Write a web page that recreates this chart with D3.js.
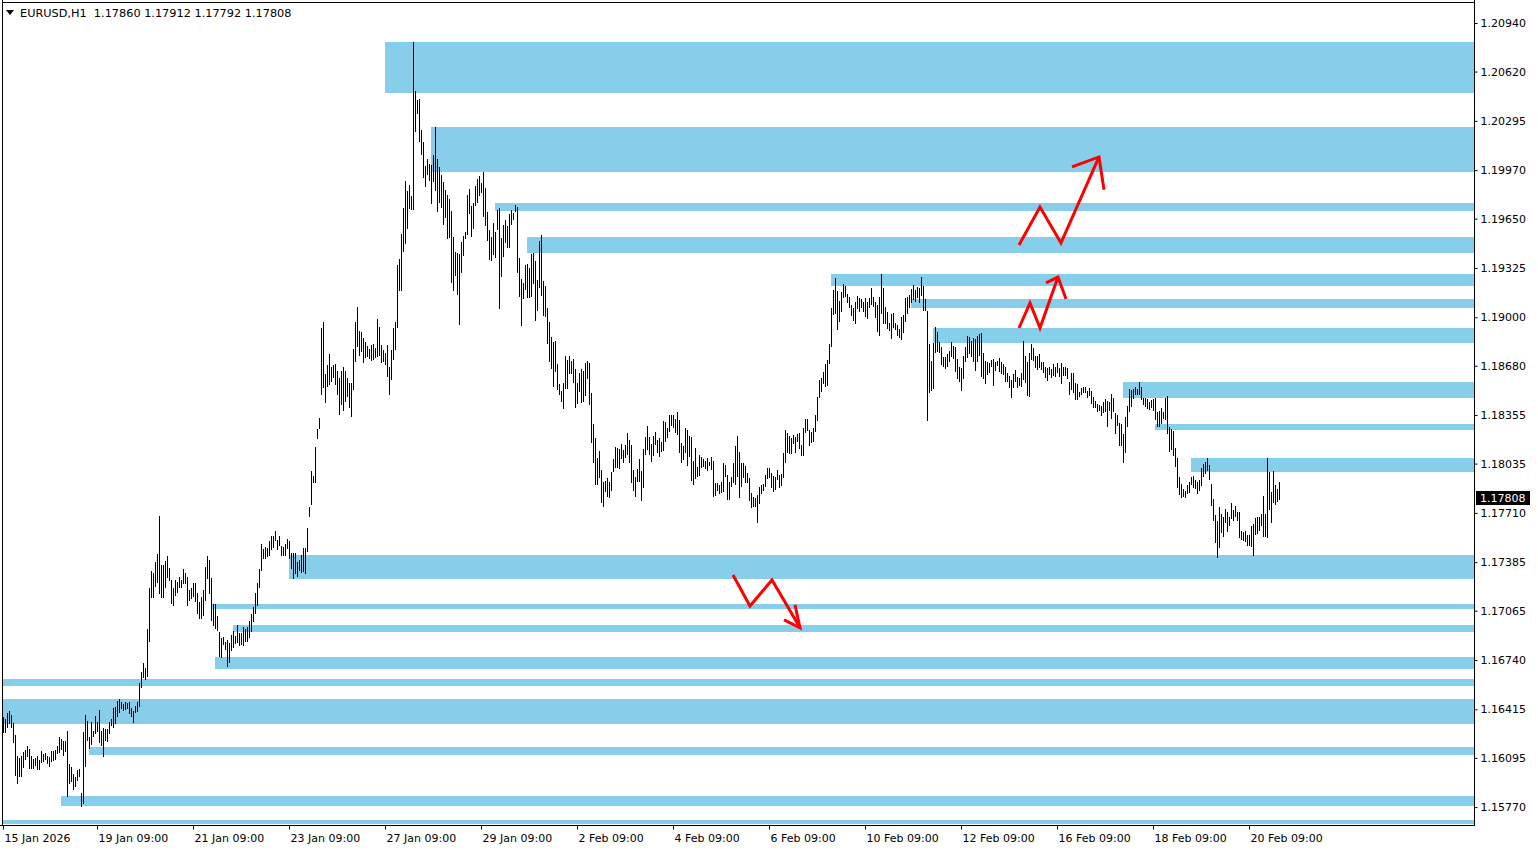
<!DOCTYPE html>
<html>
<head>
<meta charset="utf-8">
<script src="https://cdn.jsdelivr.net/npm/d3@7"></script>
<style>
  html, body { margin: 0; padding: 0; background: #fff; }
  svg { display: block; font-family: "DejaVu Sans", sans-serif; }
</style>
</head>
<body>
<svg id="chart" width="1538" height="850"></svg>
<script>
// EURUSD H1, one bar per hour
const symbolTitle = "EURUSD,H1";
const lastOpen = 1.17860, lastClose = 1.17808;

const barHigh = [
  // 15 - 19 Jan
  1.16364,1.16351,1.16390,1.16404,1.16377,1.16324,1.16245,1.16107,1.16094,1.16107,
  1.16133,1.16146,1.16173,1.16153,1.16107,1.16087,1.16094,1.16107,1.16080,1.16140,
  1.16120,1.16127,1.16107,1.16100,1.16140,1.16140,1.16146,1.16173,1.16232,1.16219,
  1.16206,1.16206,1.16272,1.16054,1.16034,1.15988,1.15968,1.16014,1.16021,1.15863,
  1.16265,1.16377,1.16338,1.16232,1.16331,1.16272,1.16371,1.16331,1.16410,1.16272,
  1.16291,1.16285,1.16285,1.16331,1.16351,1.16423,1.16430,1.16469,1.16483,1.16463,
  1.16450,1.16463,1.16456,1.16463,1.16423,1.16404,
  // 19 - 22 Jan
  1.16436,1.16463,1.16589,1.16661,1.16721,1.16688,1.16945,1.17215,1.17327,1.17314,
  1.17386,1.17439,1.17690,1.17366,1.17366,1.17393,1.17426,1.17347,1.17268,1.17215,
  1.17268,1.17254,1.17287,1.17268,1.17340,1.17314,1.17287,1.17202,1.17215,1.17248,
  1.17248,1.17182,1.17123,1.17155,1.17202,1.17353,1.17426,1.17399,1.17281,1.17110,
  1.17110,1.17031,1.16925,1.16885,1.16892,1.16859,1.16872,1.16853,1.16905,1.16932,
  1.16899,1.16971,1.16918,1.16918,1.16958,1.16945,1.16958,1.16998,1.17044,1.17090,
  1.17182,1.17248,1.17340,1.17505,
  // 22 - 27 Jan
  1.17472,1.17485,1.17479,1.17525,1.17558,1.17558,1.17591,1.17531,1.17558,1.17492,
  1.17485,1.17505,1.17538,1.17525,1.17446,1.17446,1.17446,1.17386,1.17399,1.17432,
  1.17479,1.17479,1.17610,1.17749,1.17986,1.17953,1.18144,1.18263,1.18335,1.18929,
  1.18969,1.18626,1.18685,1.18758,1.18672,1.18685,1.18692,1.18646,1.18600,1.18646,
  1.18672,1.18646,1.18600,1.18567,1.18567,1.18791,1.18969,1.19068,1.18910,1.18903,
  1.18863,1.18837,1.18811,1.18791,1.18817,1.18824,1.18797,1.18989,1.18936,1.18817,
  1.18784,1.18764,1.18817,1.18672,1.18784,1.18929,1.18969,
  // 27 - 29 Jan
  1.19344,1.19384,1.19549,1.19720,1.19899,1.19833,1.19873,1.19800,1.20815,1.20492,
  1.20433,1.20439,1.20235,1.20156,1.19998,1.20044,1.20011,1.20004,1.20070,1.20255,
  1.20044,1.19991,1.19938,1.19892,1.19840,1.19807,1.19780,1.19700,1.19529,1.19430,
  1.19423,1.19417,1.19496,1.19536,1.19562,1.19807,1.19846,1.19733,1.19753,1.19866,
  1.19912,1.19932,1.19886,1.19958,1.19853,1.19694,1.19575,1.19529,1.19621,1.19562,
  1.19707,1.19720,1.19522,1.19608,1.19641,1.19602,1.19681,1.19707,1.19687,1.19740,
  1.19727,
  // 30 Jan - 3 Feb
  1.19390,1.19252,1.19226,1.19344,1.19351,1.19325,1.19417,1.19423,1.19371,1.19245,
  1.19503,1.19542,1.19239,1.19206,1.19061,1.18969,1.18870,1.18837,1.18844,1.18692,
  1.18560,1.18514,1.18567,1.18745,1.18718,1.18745,1.18712,1.18725,1.18659,1.18567,
  1.18633,1.18659,1.18646,1.18699,1.18712,1.18699,1.18501,1.18296,1.18203,1.18071,
  1.18118,1.17992,1.17913,1.17920,1.17940,1.17913,1.17979,1.18065,1.18144,1.18138,
  1.18131,1.18164,1.18124,1.18157,1.18236,1.18190,1.18157,1.17992,1.17946,1.17999,
  1.18065,1.17986,1.18131,1.18210,
  // 3 - 6 Feb
  1.18283,1.18210,1.18164,1.18217,1.18243,1.18190,1.18203,1.18177,1.18316,1.18309,
  1.18269,1.18355,1.18355,1.18355,1.18329,1.18375,1.18322,1.18171,1.18151,1.18269,
  1.18256,1.18217,1.18210,1.18052,1.18138,1.18012,1.18091,1.18078,1.18065,1.18052,
  1.18071,1.18045,1.18078,1.18052,1.17907,1.17907,1.17894,1.17913,1.18039,1.18025,
  1.17959,1.17913,1.17946,1.18039,1.18151,1.18217,1.18111,1.18039,1.18039,1.18019,
  1.17973,1.17940,1.17841,1.17814,1.17808,1.17828,1.17880,1.17894,1.17900,1.17959,
  1.18006,1.18006,1.17973,1.17953,
  // 6 - 11 Feb
  1.17946,1.17992,1.17959,1.17966,1.18105,1.18256,1.18236,1.18217,1.18203,1.18223,
  1.18210,1.18230,1.18236,1.18157,1.18269,1.18329,1.18329,1.18256,1.18243,1.18269,
  1.18355,1.18474,1.18586,1.18600,1.18639,1.18692,1.18718,1.18824,1.19061,1.19180,
  1.19259,1.19173,1.19107,1.19166,1.19219,1.19206,1.19153,1.19133,1.19081,1.19061,
  1.19101,1.19140,1.19127,1.19120,1.19101,1.19127,1.19101,1.19127,1.19193,1.19133,
  1.19101,1.19081,1.19133,1.19285,1.19193,1.19068,1.19035,1.18962,1.19022,1.19028,
  1.18962,1.18949,1.18923,1.19002,
  // 11 - 13 Feb
  1.19015,1.19127,1.19133,1.19147,1.19186,1.19213,1.19180,1.19199,1.19193,1.19265,
  1.19206,1.19120,1.19041,1.18824,1.18712,1.18831,1.18936,1.18903,1.18837,1.18804,
  1.18738,1.18738,1.18758,1.18778,1.18837,1.18811,1.18804,1.18725,1.18672,1.18666,
  1.18745,1.18804,1.18877,1.18870,1.18844,1.18863,1.18857,1.18877,1.18890,1.18896,
  1.18764,1.18712,1.18705,1.18699,1.18718,1.18725,1.18705,1.18712,1.18732,1.18705,
  1.18692,1.18672,1.18633,1.18613,1.18586,1.18626,1.18652,1.18606,1.18600,1.18633,
  1.18844,1.18745,1.18705,1.18764,
  // 13 - 18 Feb
  1.18824,1.18797,1.18745,1.18745,1.18758,1.18705,1.18705,1.18672,1.18666,1.18672,
  1.18659,1.18692,1.18672,1.18699,1.18666,1.18699,1.18672,1.18672,1.18666,1.18573,
  1.18633,1.18633,1.18567,1.18560,1.18507,1.18534,1.18540,1.18540,1.18514,1.18534,
  1.18514,1.18474,1.18447,1.18428,1.18421,1.18414,1.18441,1.18461,1.18447,1.18441,
  1.18494,1.18468,1.18368,1.18355,1.18302,1.18296,1.18230,1.18342,1.18414,1.18527,
  1.18521,1.18527,1.18540,1.18527,1.18573,1.18540,1.18468,1.18468,1.18461,1.18441,
  1.18454,1.18461,1.18468,1.18375,
  // 18 - 20 Feb
  1.18382,1.18401,1.18375,1.18468,1.18481,1.18276,1.18263,1.18250,1.18138,1.18071,
  1.17946,1.17900,1.17867,1.17854,1.17894,1.17913,1.17946,1.17953,1.17927,1.17913,
  1.17927,1.18006,1.18032,1.18045,1.18071,1.18025,1.17900,1.17801,1.17696,1.17657,
  1.17749,1.17703,1.17683,1.17736,1.17716,1.17683,1.17775,1.17729,1.17755,1.17716,
  1.17716,1.17591,1.17584,1.17591,1.17564,1.17564,1.17624,1.17637,1.17676,1.17683,
  1.17683,1.17703,1.17821,1.17703,1.18071,1.17979,1.17847,1.17986,1.17894,1.17867,
  1.17912
];

const barLow = [
  1.16258,1.16258,1.16291,1.16318,1.16291,1.16193,1.15975,1.15922,1.15968,1.15968,
  1.16028,1.16080,1.16100,1.16021,1.16021,1.16021,1.16041,1.16014,1.16014,1.16061,
  1.16067,1.16080,1.16054,1.16034,1.16067,1.16074,1.16080,1.16120,1.16127,1.16146,
  1.16107,1.16133,1.15836,1.15922,1.15935,1.15883,1.15902,1.15942,1.15968,1.15771,
  1.15791,1.16034,1.16206,1.16153,1.16179,1.16232,1.16252,1.16265,1.16193,1.16173,
  1.16100,1.16206,1.16199,1.16252,1.16305,1.16291,1.16318,1.16364,1.16390,1.16417,
  1.16404,1.16410,1.16417,1.16384,1.16364,1.16324,

  1.16390,1.16397,1.16430,1.16556,1.16622,1.16609,1.16628,1.16859,1.17149,1.17149,
  1.17221,1.17248,1.17175,1.17149,1.17149,1.17215,1.17281,1.17261,1.17110,1.17096,
  1.17162,1.17182,1.17215,1.17215,1.17241,1.17241,1.17096,1.17129,1.17142,1.17155,
  1.17123,1.17044,1.17011,1.17011,1.17031,1.17129,1.17274,1.17175,1.16998,1.16965,
  1.16945,1.16932,1.16760,1.16754,1.16839,1.16806,1.16694,1.16721,1.16800,1.16820,
  1.16846,1.16853,1.16833,1.16839,1.16833,1.16859,1.16859,1.16885,1.16925,1.16991,
  1.17044,1.17096,1.17215,1.17327,

  1.17406,1.17406,1.17419,1.17426,1.17465,1.17479,1.17525,1.17465,1.17492,1.17426,
  1.17426,1.17426,1.17472,1.17406,1.17340,1.17274,1.17307,1.17287,1.17327,1.17314,
  1.17320,1.17307,1.17452,1.17683,1.17762,1.17907,1.17907,1.18197,1.18263,1.18488,
  1.18534,1.18434,1.18540,1.18554,1.18573,1.18600,1.18554,1.18488,1.18355,1.18421,
  1.18382,1.18441,1.18474,1.18401,1.18342,1.18521,1.18705,1.18804,1.18745,1.18771,
  1.18699,1.18732,1.18738,1.18725,1.18712,1.18718,1.18732,1.18738,1.18745,1.18699,
  1.18705,1.18685,1.18606,1.18488,1.18586,1.18718,1.18784,

  1.18929,1.19173,1.19173,1.19430,1.19483,1.19582,1.19714,1.19707,1.19707,1.20222,
  1.20341,1.20156,1.20070,1.19919,1.19859,1.19938,1.19899,1.19747,1.19892,1.19833,
  1.19694,1.19753,1.19720,1.19608,1.19654,1.19516,1.19522,1.19226,1.19173,1.19272,
  1.19147,1.18949,1.19292,1.19404,1.19516,1.19542,1.19681,1.19529,1.19582,1.19733,
  1.19753,1.19800,1.19820,1.19661,1.19602,1.19503,1.19377,1.19371,1.19410,1.19390,
  1.19575,1.19055,1.19265,1.19397,1.19490,1.19457,1.19457,1.19608,1.19641,1.19694,
  1.19292,

  1.19133,1.18943,1.19120,1.19180,1.19127,1.19127,1.19133,1.19219,1.18976,1.19041,
  1.19193,1.19140,1.19008,1.19002,1.18824,1.18705,1.18659,1.18540,1.18639,1.18521,
  1.18488,1.18441,1.18395,1.18527,1.18527,1.18626,1.18626,1.18567,1.18401,1.18428,
  1.18507,1.18434,1.18441,1.18481,1.18593,1.18421,1.18171,1.18039,1.17894,1.17894,
  1.17940,1.17775,1.17749,1.17847,1.17814,1.17808,1.17854,1.17979,1.18006,1.18006,
  1.17999,1.18065,1.18039,1.18071,1.18091,1.18039,1.17907,1.17854,1.17814,1.17913,
  1.17913,1.17788,1.17874,1.18091,

  1.18124,1.18091,1.18045,1.18085,1.18157,1.18105,1.18078,1.18111,1.18118,1.18177,
  1.18203,1.18243,1.18283,1.18269,1.18236,1.18223,1.18105,1.18039,1.18058,1.18105,
  1.18019,1.18078,1.17920,1.17894,1.17933,1.17946,1.17953,1.18006,1.18012,1.17999,
  1.17986,1.18019,1.17992,1.17814,1.17821,1.17854,1.17834,1.17841,1.17847,1.17946,
  1.17795,1.17795,1.17880,1.17907,1.17894,1.17946,1.17808,1.17880,1.17940,1.17907,
  1.17907,1.17788,1.17742,1.17749,1.17749,1.17643,1.17769,1.17834,1.17854,1.17880,
  1.17933,1.17940,1.17874,1.17847,

  1.17861,1.17927,1.17874,1.17887,1.17940,1.18039,1.18105,1.18098,1.18098,1.18164,
  1.18105,1.18177,1.18131,1.18085,1.18085,1.18236,1.18250,1.18151,1.18171,1.18177,
  1.18243,1.18316,1.18468,1.18507,1.18560,1.18540,1.18547,1.18692,1.18804,1.19015,
  1.19022,1.18916,1.18969,1.19035,1.19127,1.19133,1.19094,1.19061,1.19008,1.18976,
  1.18956,1.19055,1.19035,1.19061,1.19035,1.19002,1.18989,1.19061,1.19081,1.19068,
  1.18995,1.18903,1.18877,1.19022,1.18956,1.18956,1.18923,1.18910,1.18857,1.18929,
  1.18916,1.18877,1.18863,1.18850,

  1.18896,1.18969,1.19022,1.19061,1.19094,1.19114,1.19101,1.19127,1.19094,1.19140,
  1.19041,1.19041,1.18316,1.18501,1.18514,1.18527,1.18764,1.18771,1.18764,1.18685,
  1.18672,1.18659,1.18672,1.18705,1.18738,1.18725,1.18639,1.18593,1.18573,1.18514,
  1.18593,1.18705,1.18732,1.18758,1.18738,1.18705,1.18646,1.18705,1.18745,1.18606,
  1.18593,1.18560,1.18619,1.18633,1.18672,1.18547,1.18646,1.18679,1.18639,1.18626,
  1.18619,1.18573,1.18573,1.18534,1.18468,1.18534,1.18573,1.18534,1.18547,1.18540,
  1.18586,1.18567,1.18481,1.18474,

  1.18718,1.18712,1.18666,1.18652,1.18666,1.18652,1.18633,1.18600,1.18580,1.18619,
  1.18600,1.18613,1.18606,1.18633,1.18606,1.18560,1.18613,1.18613,1.18593,1.18488,
  1.18521,1.18501,1.18454,1.18454,1.18474,1.18488,1.18501,1.18501,1.18468,1.18481,
  1.18428,1.18401,1.18401,1.18375,1.18382,1.18349,1.18368,1.18375,1.18276,1.18382,
  1.18329,1.18375,1.18230,1.18283,1.18151,1.18151,1.18039,1.18105,1.18276,1.18375,
  1.18408,1.18461,1.18488,1.18488,1.18488,1.18454,1.18421,1.18408,1.18395,1.18388,
  1.18401,1.18382,1.18322,1.18276,

  1.18276,1.18296,1.18329,1.18322,1.18230,1.18111,1.18124,1.18085,1.18012,1.17874,
  1.17828,1.17808,1.17814,1.17808,1.17834,1.17841,1.17894,1.17874,1.17867,1.17834,
  1.17854,1.17887,1.17946,1.17966,1.17986,1.17927,1.17755,1.17657,1.17512,1.17413,
  1.17479,1.17577,1.17551,1.17643,1.17584,1.17624,1.17670,1.17657,1.17683,1.17657,
  1.17544,1.17531,1.17525,1.17518,1.17492,1.17492,1.17485,1.17426,1.17564,1.17571,
  1.17591,1.17624,1.17551,1.17551,1.17544,1.17729,1.17643,1.17775,1.17762,1.17782,
  1.17792
];

// supply / demand zones: first bar, top price, bottom price
const zoneStart  = [191, 214, 246, 262, 414, 454, 465, 560, 576, 594, 143, 104, 115, 106, 0, 0, 43, 29, 0];
const zoneTop    = [1.20815, 1.20255, 1.19753, 1.19529, 1.19285, 1.19120, 1.18929, 1.18573, 1.18296, 1.18071,
                    1.17432, 1.17110, 1.16971, 1.16760, 1.16615, 1.16483, 1.16166, 1.15843, 1.15685];
const zoneBottom = [1.20479, 1.19958, 1.19700, 1.19423, 1.19206, 1.19061, 1.18830, 1.18468, 1.18256, 1.17979,
                    1.17274, 1.17077, 1.16925, 1.16681, 1.16569, 1.16318, 1.16113, 1.15777, 1.15659];

// hand drawn arrows: [bar, price]
const arrowUpper = [[508, 1.19476], [518.5, 1.19727], [529, 1.19490], [548, 1.20057]];
const arrowUpperHead = [[534.5, 1.19991], [548, 1.20057], [550.5, 1.19840]];
const arrowMiddle = [[508, 1.18929], [513.5, 1.19094], [518.5, 1.18929], [527.5, 1.19265]];
const arrowMiddleHead = [[521.5, 1.19226], [527.5, 1.19265], [531.5, 1.19120]];
const arrowLower = [[365, 1.17300], [373.5, 1.17096], [384.5, 1.17268], [398.5, 1.16952]];
const arrowLowerHead = [[390.5, 1.17004], [398.5, 1.16952], [396, 1.17103]];

const priceTicks = [1.20940, 1.20620, 1.20295, 1.19970, 1.19650, 1.19325, 1.19000, 1.18680, 1.18355,
                    1.18035, 1.17710, 1.17385, 1.17065, 1.16740, 1.16415, 1.16095, 1.15770];
const timeTickBars = [0, 47, 95, 143, 191, 239, 287, 335, 383, 431, 479, 527, 575, 623];
const timeTickLabels = ["15 Jan 2026", "19 Jan 09:00", "21 Jan 09:00", "23 Jan 09:00", "27 Jan 09:00",
                        "29 Jan 09:00", "2 Feb 09:00", "4 Feb 09:00", "6 Feb 09:00", "10 Feb 09:00",
                        "12 Feb 09:00", "16 Feb 09:00", "18 Feb 09:00", "20 Feb 09:00"];

const plotLeft = 3, plotRight = 1474, plotTop = 3, plotBottom = 825;

const svg = d3.select('#chart');

const x = d3.scaleLinear().domain([0, 638]).range([3, 1279]);
const y = d3.scaleLinear().domain([1.15652, 1.21072]).range([plotBottom, plotTop]);

// zones
svg.append('g')
  .selectAll('rect')
  .data(zoneStart.map((s, i) => ({ s: s, t: zoneTop[i], b: zoneBottom[i] })))
  .enter()
  .append('rect')
  .attr('x', (d) => Math.round(x(d.s)))
  .attr('width', (d) => plotRight - Math.round(x(d.s)))
  .attr('y', (d) => Math.round(y(d.t)))
  .attr('height', (d) => Math.max(1, Math.round(y(d.b)) - Math.round(y(d.t))))
  .attr('fill', '#87ceeb');

// bars
const bars = barHigh.map((h, i) => ({ i: i, h: h, l: barLow[i] }));
svg.append('g')
  .attr('shape-rendering', 'crispEdges')
  .selectAll('rect')
  .data(bars)
  .enter()
  .append('rect')
  .attr('x', (d) => Math.round(x(d.i)))
  .attr('width', 1)
  .attr('y', (d) => Math.round(y(d.h)))
  .attr('height', (d) => Math.max(1, Math.round(y(d.l)) - Math.round(y(d.h))))
  .attr('fill', '#000');

// arrows
const line = d3.line().x((d) => x(d[0])).y((d) => y(d[1]));
const arrowG = svg.append('g')
  .attr('fill', 'none')
  .attr('stroke', '#ff0000')
  .attr('stroke-width', 3)
  .attr('stroke-linejoin', 'miter');
[arrowUpper, arrowUpperHead, arrowMiddle, arrowMiddleHead, arrowLower, arrowLowerHead].forEach((pts) => {
  arrowG.append('path').attr('d', line(pts));
});

// frame
svg.append('g')
  .attr('shape-rendering', 'crispEdges')
  .attr('stroke', '#000')
  .call((g) => {
    g.append('line').attr('x1', 2.5).attr('x2', 2.5).attr('y1', 0).attr('y2', plotBottom + 0.5);
    g.append('line').attr('x1', 2).attr('x2', plotRight).attr('y1', 2.5).attr('y2', 2.5);
    g.append('line').attr('x1', 0).attr('x2', plotRight + 1).attr('y1', plotBottom + 0.5).attr('y2', plotBottom + 0.5);
    g.append('line').attr('x1', plotRight + 0.5).attr('x2', plotRight + 0.5).attr('y1', 0).attr('y2', plotBottom + 1);
  });

// price axis
const yAxis = d3.axisRight(y)
  .tickValues(priceTicks)
  .tickFormat(d3.format('.5f'))
  .tickSize(3)
  .tickSizeOuter(0)
  .tickPadding(3);
svg.append('g')
  .attr('transform', 'translate(' + (plotRight + 0.5) + ',0)')
  .call(yAxis)
  .call((g) => g.select('.domain').remove())
  .call((g) => g.selectAll('text').attr('font-size', 11).attr('font-family', '"DejaVu Sans", sans-serif').attr('fill', '#000'))
  .call((g) => g.selectAll('line').attr('stroke', '#000'));

// time axis
const xAxis = d3.axisBottom(x)
  .tickValues(timeTickBars)
  .tickFormat((d, i) => timeTickLabels[i])
  .tickSize(4)
  .tickSizeOuter(0)
  .tickPadding(5);
svg.append('g')
  .attr('transform', 'translate(0,' + (plotBottom + 0.5) + ')')
  .call(xAxis)
  .call((g) => g.select('.domain').remove())
  .call((g) => g.selectAll('text')
    .attr('text-anchor', 'start')
    .attr('dx', 1)
    .attr('font-size', 11)
    .attr('font-family', '"DejaVu Sans", sans-serif')
    .attr('fill', '#000'))
  .call((g) => g.selectAll('line').attr('stroke', '#000'));

// current price label
const lastY = Math.round(y(lastClose));
svg.append('rect')
  .attr('x', plotRight + 2)
  .attr('y', lastY - 7)
  .attr('width', 54)
  .attr('height', 14)
  .attr('fill', '#000');
svg.append('text')
  .attr('x', plotRight + 6)
  .attr('y', lastY + 4)
  .attr('font-size', 11)
  .attr('fill', '#fff')
  .text(d3.format('.5f')(lastClose));

// header
const lastIdx = barHigh.length - 1;
svg.append('path')
  .attr('d', 'M6,10 L14,10 L10,15 Z')
  .attr('fill', '#000');
svg.append('text')
  .attr('x', 20)
  .attr('y', 17)
  .attr('font-size', 11.3)
  .attr('fill', '#000')
  .attr('xml:space', 'preserve')
  .text(symbolTitle + '  ' + [lastOpen, barHigh[lastIdx], barLow[lastIdx], lastClose].map(d3.format('.5f')).join(' '));
</script>
</body>
</html>
